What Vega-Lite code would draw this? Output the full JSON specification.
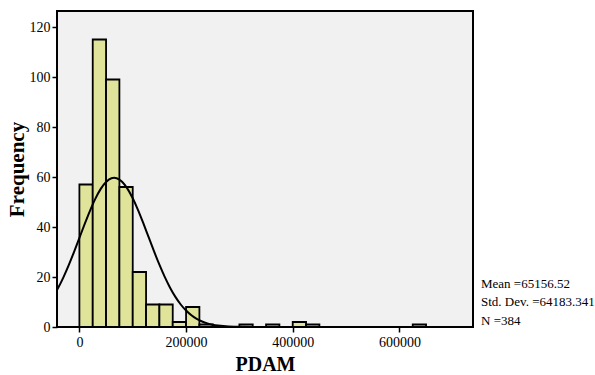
{
  "$schema": "https://vega.github.io/schema/vega-lite/v6.json",
  "width": 416,
  "height": 316,
  "autosize": {"type": "none"},
  "padding": {"left": 57, "top": 11, "right": 122, "bottom": 48},
  "background": "white",
  "config": {
    "view": {"fill": "#f1f1f1", "stroke": "black", "strokeWidth": 2},
    "font": "Liberation Serif",
    "axis": {
      "domain": false,
      "grid": false,
      "tickColor": "black",
      "tickSize": 5,
      "tickWidth": 1.5,
      "labelColor": "black",
      "labelFont": "Liberation Serif",
      "labelFontSize": 14,
      "titleColor": "black",
      "titleFont": "Liberation Serif",
      "titleFontSize": 20,
      "titleFontWeight": "bold"
    }
  },
  "datasets": {
    "bins": [
      {"start": 0, "end": 25000, "count": 57},
      {"start": 25000, "end": 50000, "count": 115},
      {"start": 50000, "end": 75000, "count": 99},
      {"start": 75000, "end": 100000, "count": 56},
      {"start": 100000, "end": 125000, "count": 22},
      {"start": 125000, "end": 150000, "count": 9},
      {"start": 150000, "end": 175000, "count": 9},
      {"start": 175000, "end": 200000, "count": 2},
      {"start": 200000, "end": 225000, "count": 8},
      {"start": 225000, "end": 250000, "count": 1},
      {"start": 300000, "end": 325000, "count": 1},
      {"start": 350000, "end": 375000, "count": 1},
      {"start": 400000, "end": 425000, "count": 2},
      {"start": 425000, "end": 450000, "count": 1},
      {"start": 625000, "end": 650000, "count": 1}
    ],
    "curve": [
      {"x": -42000, "y": 14.81},
      {"x": -40000, "y": 15.59},
      {"x": -30000, "y": 19.88},
      {"x": -20000, "y": 24.75},
      {"x": -10000, "y": 30.06},
      {"x": 0, "y": 35.65},
      {"x": 10000, "y": 41.25},
      {"x": 20000, "y": 46.59},
      {"x": 30000, "y": 51.36},
      {"x": 40000, "y": 55.26},
      {"x": 50000, "y": 58.03},
      {"x": 60000, "y": 59.48},
      {"x": 65156, "y": 59.67},
      {"x": 70000, "y": 59.5},
      {"x": 80000, "y": 58.1},
      {"x": 90000, "y": 55.36},
      {"x": 100000, "y": 51.49},
      {"x": 110000, "y": 46.75},
      {"x": 120000, "y": 41.42},
      {"x": 130000, "y": 35.82},
      {"x": 140000, "y": 30.23},
      {"x": 150000, "y": 24.91},
      {"x": 160000, "y": 20.03},
      {"x": 170000, "y": 15.72},
      {"x": 180000, "y": 12.04},
      {"x": 190000, "y": 9.0},
      {"x": 200000, "y": 6.57},
      {"x": 210000, "y": 4.68},
      {"x": 220000, "y": 3.25},
      {"x": 230000, "y": 2.21},
      {"x": 240000, "y": 1.46},
      {"x": 250000, "y": 0.94},
      {"x": 260000, "y": 0.6},
      {"x": 270000, "y": 0.37},
      {"x": 280000, "y": 0.22},
      {"x": 290000, "y": 0.13},
      {"x": 300000, "y": 0.07},
      {"x": 320000, "y": 0.02},
      {"x": 350000, "y": 0.0},
      {"x": 738000, "y": 0.0}
    ],
    "stats": [
      {"label": "Mean =65156.52\nStd. Dev. =64183.341\nN =384"}
    ]
  },
  "layer": [
    {
      "data": {"name": "bins"},
      "mark": {"type": "rect", "fill": "#e0e39a", "stroke": "black", "strokeWidth": 1.8, "clip": true},
      "encoding": {
        "x": {
          "field": "start",
          "type": "quantitative",
          "scale": {"domain": [-42000, 738000], "nice": false, "zero": false},
          "axis": {"values": [0, 200000, 400000, 600000], "title": "PDAM", "format": "d", "titlePadding": 5, "labelPadding": 3}
        },
        "x2": {"field": "end"},
        "y": {
          "field": "count",
          "type": "quantitative",
          "scale": {"domain": [0, 126.4], "nice": false},
          "axis": {"values": [0, 20, 40, 60, 80, 100, 120], "title": "Frequency", "titleFontSize": 21, "titlePadding": 2, "labelPadding": 2}
        },
        "y2": {"datum": 0}
      }
    },
    {
      "data": {"name": "curve"},
      "mark": {"type": "line", "color": "black", "strokeWidth": 2, "clip": true, "interpolate": "monotone"},
      "encoding": {
        "x": {"field": "x", "type": "quantitative"},
        "y": {"field": "y", "type": "quantitative"}
      }
    },
    {
      "data": {"name": "stats"},
      "mark": {"type": "text", "align": "left", "baseline": "bottom", "lineBreak": "\n", "lineHeight": 18.5, "fontSize": 13, "font": "Liberation Serif", "color": "black", "clip": false},
      "encoding": {
        "x": {"datum": 753000},
        "y": {"datum": 14.5},
        "text": {"field": "label"}
      }
    }
  ]
}
